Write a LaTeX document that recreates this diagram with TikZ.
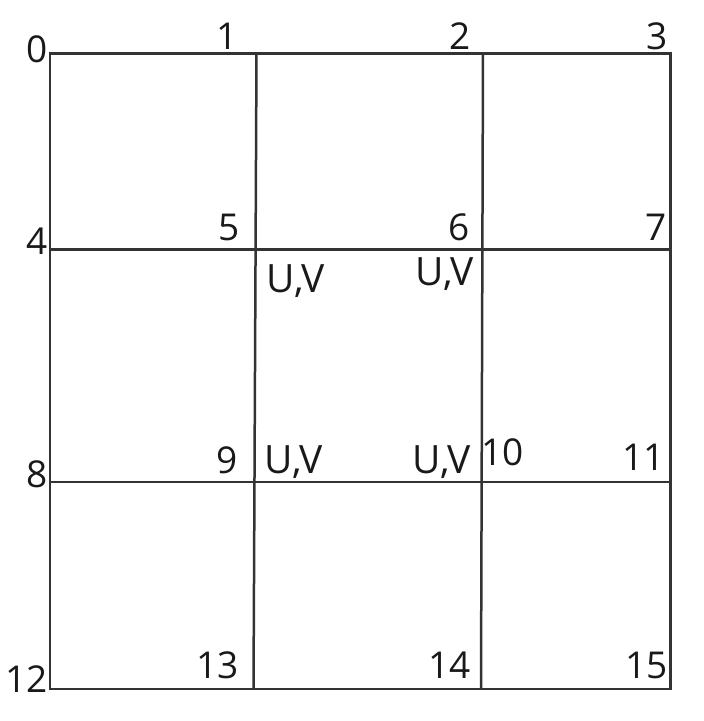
\documentclass[tikz,border=0pt]{standalone}
\usepackage{fontspec}
\setmainfont{Open Sans}
\begin{document}
\begin{tikzpicture}[x=1pt,y=-1pt,
  gridline/.style={line width=2.5pt,draw=black!80},
  lbl/.style={anchor=base east,inner sep=0pt,font=\fontsize{37}{40}\selectfont,text=black!90},
  uvlbl/.style={lbl,font=\fontsize{39}{42}\selectfont}]
\useasboundingbox (0,0) rectangle (704,721);
% grid points
\coordinate (p0) at (50,53.5);
\coordinate (p1) at (256.5,53.5);
\coordinate (p2) at (483,53.5);
\coordinate (p3) at (670.5,53.5);
\coordinate (p4) at (50,249.5);
\coordinate (p7) at (670.5,249.5);
\coordinate (p8) at (50,482);
\coordinate (p11) at (670.5,482);
\coordinate (p12) at (50,689);
\coordinate (p13) at (253.5,689);
\coordinate (p14) at (481,689);
\coordinate (p15) at (670.5,689);
% grid lines
\draw[gridline] (p0) -- (p3) -- (p15) -- (p12) -- cycle;
\draw[gridline] (p4) -- (p7);
\draw[gridline] (p8) -- (p11);
\draw[gridline] (p1) -- (p13);
\draw[gridline] (p2) -- (p14);
% labels
\node[lbl] (l0) at (48,62) {0};
\node[lbl] (l1) at (238,49) {1};
\node[lbl] (l2) at (471,49) {2};
\node[lbl] (l3) at (668,49) {3};
\node[lbl] (l4) at (48,254) {4};
\node[lbl] (l5) at (240,240) {5};
\node[lbl] (l6) at (470,240) {6};
\node[lbl] (l7) at (667,240) {7};
\node[uvlbl] (uv1) at (325,292) {U,V};
\node[uvlbl] (uv2) at (474,285) {U,V};
\node[lbl] (l8) at (48,487) {8};
\node[lbl] (l9) at (238,473) {9};
\node[uvlbl] (uv3) at (323,473) {U,V};
\node[uvlbl] (uv4) at (471,473) {U,V};
\node[lbl] (l10) at (524,465) {10};
\node[lbl] (l11) at (665,470) {11};
\node[lbl] (l12) at (48,692) {12};
\node[lbl] (l13) at (239,678) {13};
\node[lbl] (l14) at (471,678) {14};
\node[lbl] (l15) at (668,678) {15};
\end{tikzpicture}
\end{document}
